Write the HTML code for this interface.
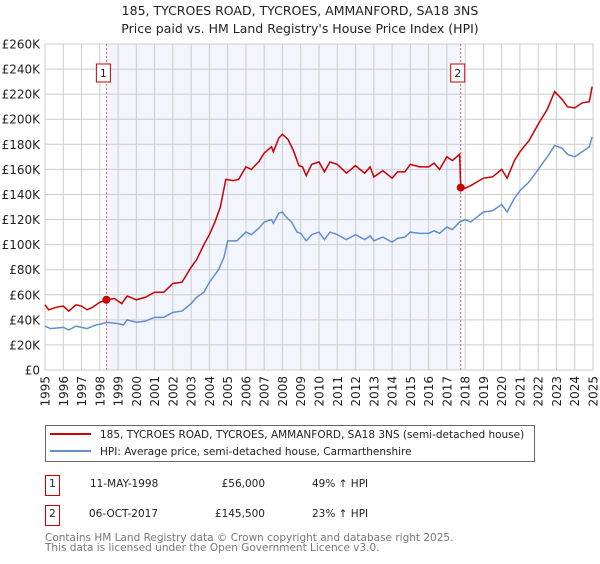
<!DOCTYPE html>
<html><head><meta charset="utf-8"><style>
body{margin:0;background:#fff;font-family:"DejaVu Sans","Liberation Sans",sans-serif;}
svg text{font-family:"DejaVu Sans","Liberation Sans",sans-serif;}
</style></head><body>
<svg id="chart" width="600" height="560" viewBox="0 0 600 560">
<text x="300" y="15" text-anchor="middle" font-size="12.5" fill="#222">185, TYCROES ROAD, TYCROES, AMMANFORD, SA18 3NS</text>
<text x="300" y="33" text-anchor="middle" font-size="12.5" fill="#222">Price paid vs. HM Land Registry's House Price Index (HPI)</text>
<g id="plot"></g>
<g>
<rect x="45.5" y="425.5" width="489" height="36" fill="#fff" stroke="#666"/>
<line x1="50" y1="434" x2="91" y2="434" stroke="#cc0000" stroke-width="2"/>
<text x="100" y="438" font-size="10.5" fill="#222">185, TYCROES ROAD, TYCROES, AMMANFORD, SA18 3NS (semi-detached house)</text>
<line x1="50" y1="451" x2="91" y2="451" stroke="#5f8fcf" stroke-width="2"/>
<text x="100" y="455" font-size="10.5" fill="#222">HPI: Average price, semi-detached house, Carmarthenshire</text>
</g>
<g font-size="10.5" fill="#222">
<rect x="45.5" y="475.5" width="14" height="20" fill="#fff" stroke="#cc0000"/>
<text x="52.5" y="487" text-anchor="middle">1</text>
<text x="90" y="487">11-MAY-1998</text><text x="265" y="487" text-anchor="end">£56,000</text><text x="312" y="487">49% ↑ HPI</text>
<rect x="45.5" y="505.5" width="14" height="20" fill="#fff" stroke="#cc0000"/>
<text x="52.5" y="517" text-anchor="middle">2</text>
<text x="89" y="517">06-OCT-2017</text><text x="265" y="517" text-anchor="end">£145,500</text><text x="312" y="517">23% ↑ HPI</text>
</g>
<text x="45" y="541" font-size="10.5" fill="#777">Contains HM Land Registry data © Crown copyright and database right 2025.</text>
<text x="45" y="551" font-size="10.5" fill="#777">This data is licensed under the Open Government Licence v3.0.</text>
</svg>
<script>
const hpiYears=[1995,1995.3,1996,1996.3,1996.7,1997,1997.3,1997.8,1998,1998.4,1999,1999.3,1999.5,2000,2000.5,2001,2001.5,2002,2002.5,2003,2003.3,2003.7,2004,2004.5,2004.8,2005,2005.5,2006,2006.3,2006.7,2007,2007.4,2007.5,2007.8,2008,2008.2,2008.5,2008.8,2009,2009.3,2009.6,2010,2010.3,2010.6,2011,2011.5,2012,2012.5,2012.8,2013,2013.5,2014,2014.3,2014.7,2015,2015.5,2016,2016.3,2016.6,2017,2017.3,2017.7,2018,2018.3,2019,2019.5,2020,2020.3,2020.7,2021,2021.5,2022,2022.5,2022.9,2023.3,2023.6,2024,2024.4,2024.8,2024.95];
const hpiValues=[35,33,34,32,35,34,33,36,36.5,38,37,36,40,38,39,42,42,46,47,53,58,62,70,80,90,103,103,110,108,113,118,120,117,125,126,122,118,110,109,103,108,110,104,110,108,104,108,104,107,103,106,102,105,106,110,109,109,111,109,114,112,118,120,118,126,127,132,126,137,143,150,160,170,179,177,172,170,174,178,186];
const ppYears=[1995,1995.2,1995.6,1996,1996.3,1996.7,1997,1997.3,1997.6,1998,1998.36,1998.8,1999.2,1999.5,2000,2000.5,2001,2001.5,2002,2002.5,2003,2003.3,2003.7,2004,2004.3,2004.6,2004.9,2005.3,2005.6,2006,2006.3,2006.7,2007,2007.4,2007.5,2007.8,2008,2008.3,2008.6,2008.9,2009.1,2009.3,2009.6,2010,2010.3,2010.6,2011,2011.5,2012,2012.5,2012.8,2013,2013.5,2014,2014.3,2014.7,2015,2015.5,2016,2016.3,2016.6,2017,2017.3,2017.7,2017.76,2018,2018.3,2019,2019.5,2020,2020.3,2020.7,2021,2021.5,2022,2022.5,2022.9,2023.3,2023.6,2024,2024.4,2024.8,2024.95];
const ppValues=[52,48,50,51,47,52,51,48,50,54,56,57,53,59,56,58,62,62,69,70,82,88,100,108,118,130,152,151,152,162,160,166,173,178,174,185,188,184,175,163,162,155,164,166,158,166,164,157,163,157,162,154,159,153,158,158,164,162,162,165,160,170,167,172,145.5,145,147,153,154,160,153,167,174,183,196,208,222,216,210,209,213,214,226];
const saleYears=[1998.36,2017.76];
const saleValues=[56,145.5];
const saleLabels=["1","2"];
const yTicks=[0,20,40,60,80,100,120,140,160,180,200,220,240,260];
const xTicks=[1995,1996,1997,1998,1999,2000,2001,2002,2003,2004,2005,2006,2007,2008,2009,2010,2011,2012,2013,2014,2015,2016,2017,2018,2019,2020,2021,2022,2023,2024,2025];
const X0=45,X1=593,Y0=370,Y1=44;
const sx=y=>X0+(y-1995)/30*(X1-X0);
const sy=v=>Y0-v/260*(Y0-Y1);
const NS="http://www.w3.org/2000/svg";
const g=document.getElementById('plot');
function mk(t,a){const e=document.createElementNS(NS,t);for(const k in a)e.setAttribute(k,a[k]);g.appendChild(e);return e;}
const shade=mk('rect',{x:sx(saleYears[0]),y:Y1,width:sx(saleYears[1])-sx(saleYears[0]),height:Y0-Y1,fill:'#f2f5fd'});


yTicks.forEach(v=>{
 const l=mk('line',{x1:X0,x2:X1,y1:sy(v),y2:sy(v),stroke:'#cccccc','stroke-width':1});
 
 
 const t=mk('text',{x:40,y:sy(v)+4.5,'text-anchor':'end','font-size':'12',fill:'#222'});
 t.textContent=v===0?'£0':'£'+v+'K';
 
 
});
xTicks.forEach(y=>{
 const l=mk('line',{x1:sx(y),x2:sx(y),y1:Y1,y2:Y0,stroke:'#cccccc','stroke-width':1});
 
 
 const t=mk('text',{x:0,y:0,'text-anchor':'end','font-size':'12',fill:'#222',transform:`translate(${sx(y)+4.5},376) rotate(-90)`});
 t.textContent=y;
 
 
});
const fr=mk('rect',{x:X0,y:Y1,width:X1-X0,height:Y0-Y1,fill:'none',stroke:'#cccccc'});


saleYears.forEach((y,i)=>{
 const l=mk('line',{x1:sx(y),x2:sx(y),y1:Y1,y2:Y0,stroke:'#e06060','stroke-width':1,'stroke-dasharray':'2,2'});
 
 
 const r=mk('rect',{x:sx(y)-10,y:64,width:14,height:18,fill:'#fff',stroke:'#cc0000'});
 
 
 const t=mk('text',{x:sx(y)-3,y:77,'text-anchor':'middle','font-size':'11',fill:'#222'});
 t.textContent=saleLabels[i];
 
 
});
const hp=mk('polyline',{points:hpiYears.map((y,i)=>sx(y)+','+sy(hpiValues[i])).join(' '),fill:'none',stroke:'#5f8fcf','stroke-width':1.5});


const pp=mk('polyline',{points:ppYears.map((y,i)=>sx(y)+','+sy(ppValues[i])).join(' '),fill:'none',stroke:'#cc0000','stroke-width':1.5});


saleYears.forEach((y,i)=>{
 const c=mk('circle',{cx:sx(y),cy:sy(saleValues[i]),r:4,fill:'#cc0000'});
 
 
});
</script>
</body></html>
